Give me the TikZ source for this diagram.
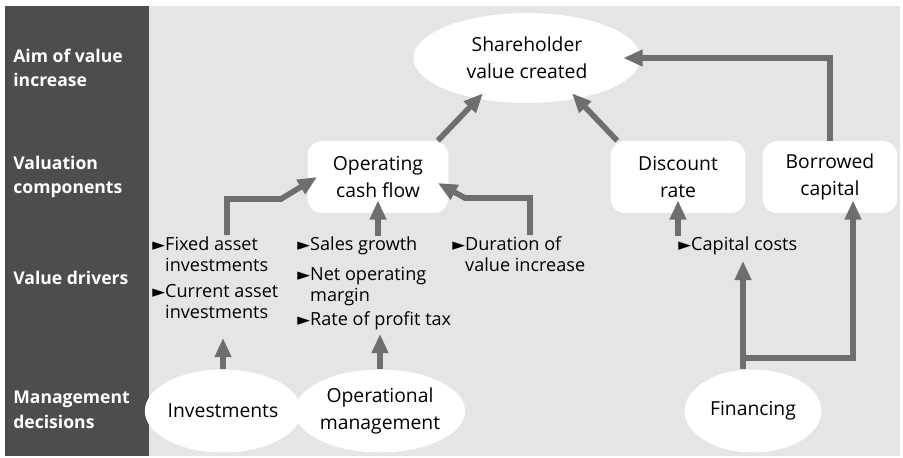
\documentclass[tikz,border=0pt]{standalone}
\usepackage{fontspec}
\setmainfont{Open Sans}
\newfontfamily\symfont{DejaVu Sans}
\usepackage{tikz}
\usetikzlibrary{shapes.geometric, arrows.meta, positioning, calc}
\definecolor{panelgray}{RGB}{77,77,77}
\definecolor{backgray}{RGB}{229,229,229}
\definecolor{arrowgray}{RGB}{110,110,110}
\newcommand{\bul}{{\symfont\fontsize{9.5}{9.5}\selectfont ►}}
\newcommand{\ind}{\hphantom{\bul}}

\begin{document}
\begin{tikzpicture}[x=0.02cm, y=-0.02cm,
	boxtext/.style={font=\fontsize{11}{15.3}\selectfont, align=center, inner sep=0pt},
	roundbox/.style={boxtext, fill=white, rounded corners=0.3cm, minimum width=2.7cm, minimum height=1.44cm},
	ovalbox/.style={boxtext, ellipse, fill=white, minimum width=2.74cm, minimum height=1.66cm},
	rowlabel/.style={font=\bfseries\fontsize{10}{14}\selectfont, text=white, align=left, anchor=west, inner sep=0pt},
	driver/.style={font=\fontsize{10.3}{11.9}\selectfont, align=left, anchor=north west, inner sep=0pt},
	flow/.style={draw=arrowgray, line width=3.2pt, -{Triangle[length=11pt, width=9pt]}}]
		\useasboundingbox (0,0) rectangle (903,457);
		\fill [backgray] (5,6) rectangle (900,456);
		\fill [panelgray] (5,6) rectangle (149,456);
		% row labels
		\node [rowlabel] (aimlabel) at (13,68) {Aim of value\\increase};
		\node [rowlabel] (vallabel) at (13,177) {Valuation\\components};
		\node [rowlabel] (drvlabel) at (13,278) {Value drivers};
		\node [rowlabel] (mgmlabel) at (13,410) {Management\\decisions};
		% components
		\node [ovalbox, minimum width=4.54cm, minimum height=1.8cm] (share) at (527,58) {Shareholder\\value created};
		\node [roundbox, minimum width=2.82cm] (ocf) at (378,177) {Operating\\cash flow};
		\node [roundbox] (disc) at (678,177) {Discount\\rate};
		\node [roundbox] (bor) at (830,177) {Borrowed\\capital};
		% drivers
		\node [driver] (fixed) at (152,236) {\bul Fixed asset\\\ind investments};
		\node [driver] (cur) at (152,284) {\bul Current asset\\\ind investments};
		\node [driver] (sales) at (297,236) {\bul Sales growth};
		\node [driver] (net) at (297,267) {\bul Net operating\\\ind margin};
		\node [driver] (rate) at (297,311) {\bul Rate of profit tax};
		\node [driver] (dur) at (452,236) {\bul Duration of\\\ind value increase};
		\node [driver] (cap) at (678,236) {\bul Capital costs};
		% decisions
		\node [ovalbox] (inv) at (223,411) {Investments};
		\node [ovalbox, minimum width=2.94cm] (opm) at (380,411) {Operational\\management};
		\node [ovalbox] (fin) at (753,411) {Financing};
		% bends
		\coordinate (fixedout) at (227,235);
		\coordinate (fixedbend) at (281,199);
		\coordinate (durout) at (530,235);
		\coordinate (durbend) at (465,198);
		\coordinate (finsplit) at (743,358);
		% arrows
		\draw [flow] (fixedout) |- (fixedbend) -- ([xshift=2mm]ocf.west);
		\draw [flow] (durout) |- (durbend) -- ([xshift=-2.2mm, yshift=-1.2mm]ocf.east);
		\draw [flow] (sales.north -| ocf.south) -- ([yshift=2.6mm]ocf.south);
		\draw [flow] ([xshift=-2.2mm]ocf.north east) -- ($(share.south)+(-44,-10)$);
		\draw [flow] ([xshift=1.4mm]disc.north west) -- ($(share.south)+(45,-10)$);
		\draw [flow] (bor.north) |- ([xshift=-3.5mm]share.east);
		\draw [flow] (cap.north -| disc.south) -- ([yshift=2.6mm]disc.south);
		\draw [flow] (inv.north) -- ($(inv.north |- cur.south)+(0,19)$);
		\draw [flow] (opm.north) -- ($(opm.north |- rate.south)+(0,4)$);
		\draw [flow] ($(fin.north)+(-10,0)$) -- ($(finsplit |- cap.south)+(0,6)$);
		\draw [flow] (finsplit) -| ($(bor.south)+(23,-13)$);
	\end{tikzpicture}
\end{document}
